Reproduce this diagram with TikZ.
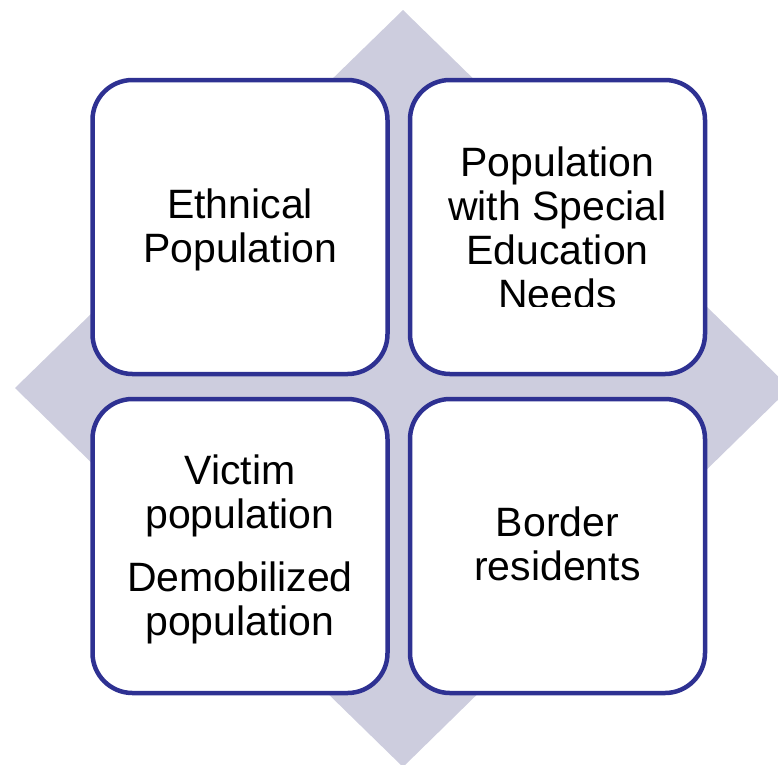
\documentclass[tikz,border=0pt]{standalone}
\usepackage{fontspec}
\setmainfont{Liberation Sans}
\definecolor{navy}{RGB}{46,49,146}
\definecolor{diamfill}{RGB}{205,205,222}
\begin{document}
\begin{tikzpicture}[x=1pt,y=-1pt,
  box/.style={draw=navy, line width=4.5pt, fill=white, rounded corners=40pt,
    minimum width=295pt, minimum height=294pt, inner sep=0pt},
  lbl/.style={align=center, font=\fontsize{41}{44}\selectfont, text=black, inner sep=0pt}]
\useasboundingbox (0,0) rectangle (778,764);
\clip (0,0) rectangle (778,764);
\fill[diamfill] (403,10) -- (790,388) -- (403,767) -- (15,388) -- cycle;
\node[box] (tl) at (240,227) {};
\node[box] (tr) at (557.5,227) {};
\node[box] (bl) at (240,546) {};
\node[box] (br) at (557.5,546) {};
\node[lbl] (tlt) at ([yshift=-3pt]tl.center) {Ethnical\\Population};
\begin{scope}
\clip (400,100) rectangle (700,306);
\node[lbl] (trt) at ([yshift=-1pt]tr.center) {Population\\with Special\\Education\\Needs};
\end{scope}
\node[lbl] (blt) at ([yshift=-3pt]bl.center) {Victim\\population\\[19pt]Demobilized\\population};
\node[lbl] (brt) at ([yshift=2pt]br.center) {Border\\residents};
\end{tikzpicture}
\end{document}
